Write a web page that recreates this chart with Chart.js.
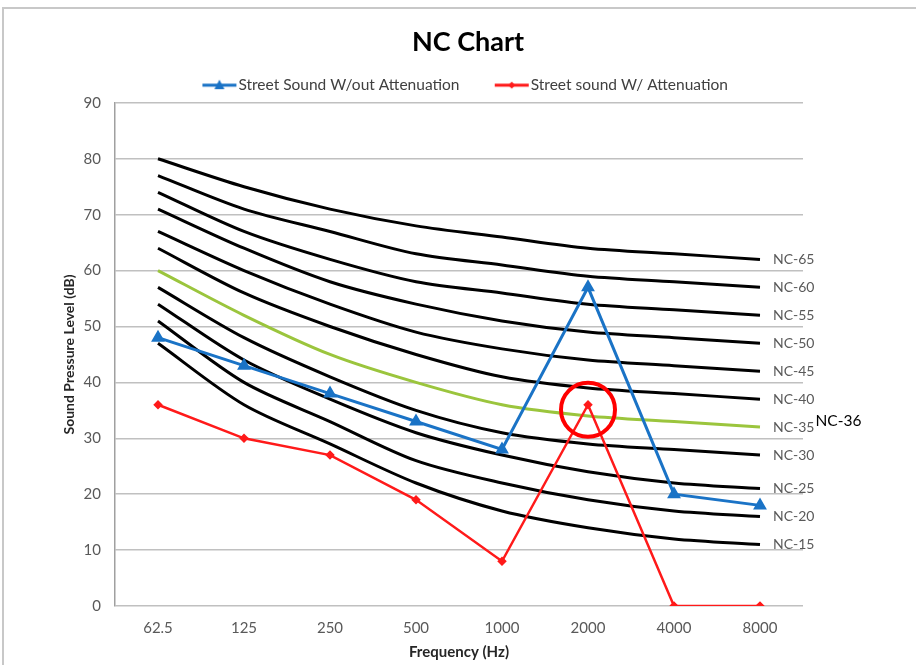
<!DOCTYPE html>
<html>
<head>
<meta charset="utf-8">
<script src="https://cdn.jsdelivr.net/npm/chart.js@4"></script>
<style>
    html, body { margin: 0; padding: 0; background: #fff; }
    #wrap { width: 916px; height: 665px; position: relative; }
</style>
</head>
<body>
<div id="wrap"><canvas id="ncChart" width="916" height="665"></canvas></div>
<script>
const freqLabels = ["62.5", "125", "250", "500", "1000", "2000", "4000", "8000"];
const yTicks = [0, 10, 20, 30, 40, 50, 60, 70, 80, 90];

// NC reference curves
const nc15 = [47, 36, 29, 22, 17, 14, 12, 11];
const nc20 = [51, 40, 33, 26, 22, 19, 17, 16];
const nc25 = [54, 44, 37, 31, 27, 24, 22, 21];
const nc30 = [57, 48, 41, 35, 31, 29, 28, 27];
const nc35 = [60, 52, 45, 40, 36, 34, 33, 32];
const nc40 = [64, 56, 50, 45, 41, 39, 38, 37];
const nc45 = [67, 60, 54, 49, 46, 44, 43, 42];
const nc50 = [71, 64, 58, 54, 51, 49, 48, 47];
const nc55 = [74, 67, 62, 58, 56, 54, 53, 52];
const nc60 = [77, 71, 67, 63, 61, 59, 58, 57];
const nc65 = [80, 75, 71, 68, 66, 64, 63, 62];

// measured street sound
const streetNoAtten = [48, 43, 38, 33, 28, 57, 20, 18];
const streetAtten = [36, 30, 27, 19, 8, 36, 0, 0];

const ncCurves = [
    ["NC-15", nc15], ["NC-20", nc20], ["NC-25", nc25], ["NC-30", nc30],
    ["NC-35", nc35], ["NC-40", nc40], ["NC-45", nc45], ["NC-50", nc50],
    ["NC-55", nc55], ["NC-60", nc60], ["NC-65", nc65]
];

const FONT = "Lato, 'Open Sans', sans-serif";
const BLUE = "#1a73c6";
const RED = "#ff1a1a";

// legend swatch: short line with the series marker in the middle
function legendIcon(color, shape) {
    const c = document.createElement("canvas");
    c.width = 36;
    c.height = 12;
    const g = c.getContext("2d");
    g.strokeStyle = color;
    g.fillStyle = color;
    g.lineWidth = 3;
    g.beginPath();
    g.moveTo(1, 6);
    g.lineTo(35, 6);
    g.stroke();
    g.beginPath();
    if (shape === "triangle") {
        g.moveTo(18, 0.5);
        g.lineTo(23, 10);
        g.lineTo(13, 10);
    } else {
        g.moveTo(18, 2.5);
        g.lineTo(21.5, 6);
        g.lineTo(18, 9.5);
        g.lineTo(14.5, 6);
    }
    g.closePath();
    g.fill();
    return c;
}
const legendIcons = [legendIcon(BLUE, "triangle"), legendIcon(RED, "diamond")];

const datasets = [
    {
        label: "Street Sound W/out Attenuation",
        data: streetNoAtten,
        borderColor: BLUE,
        backgroundColor: BLUE,
        borderWidth: 3,
        pointStyle: "triangle",
        pointRadius: 5,
        tension: 0
    },
    {
        label: "Street sound W/ Attenuation",
        data: streetAtten,
        borderColor: RED,
        backgroundColor: RED,
        borderWidth: 2.5,
        pointStyle: "rectRot",
        pointRadius: 3,
        tension: 0
    }
];

ncCurves.forEach(([name, values]) => {
    const green = name === "NC-35";
    datasets.push({
        label: name,
        data: values,
        borderColor: green ? "#9bc53d" : "#000000",
        borderWidth: 3,
        pointRadius: 0,
        tension: 0.3
    });
});

const framePlugin = {
    id: "frame",
    beforeDraw(chart) {
        const ctx = chart.ctx;
        ctx.save();
        ctx.fillStyle = "#ffffff";
        ctx.fillRect(0, 0, chart.width, chart.height);
        ctx.strokeStyle = "#c8c8c8";
        ctx.lineWidth = 2;
        ctx.beginPath();
        ctx.moveTo(3, chart.height + 5);
        ctx.lineTo(3, 8);
        ctx.lineTo(chart.width, 8);
        ctx.stroke();
        ctx.restore();
    }
};

const ncLabelPlugin = {
    id: "ncLabels",
    afterDatasetsDraw(chart) {
        const ctx = chart.ctx;
        const xs = chart.scales.x;
        const ys = chart.scales.y;
        const lastIdx = freqLabels.length - 1;
        const px = xs.getPixelForValue(lastIdx) + 13;

        ctx.save();
        ctx.font = "14px " + FONT;
        ctx.fillStyle = "#595959";
        ctx.textAlign = "left";
        ctx.textBaseline = "middle";
        let nc35Right = 0, nc35Y = 0;
        ncCurves.forEach(([name, values]) => {
            const py = ys.getPixelForValue(values[lastIdx]);
            ctx.fillText(name, px, py);
            if (name === "NC-35") {
                nc35Right = px + ctx.measureText(name).width;
                nc35Y = py;
            }
        });

        // note next to NC-35
        ctx.font = "15.5px " + FONT;
        ctx.fillStyle = "#000000";
        ctx.fillText("NC-36", nc35Right + 1, nc35Y - 6);

        // circle round the attenuated peak
        const peak = chart.getDatasetMeta(1).data[5];
        ctx.strokeStyle = "#ff0000";
        ctx.lineWidth = 4;
        ctx.beginPath();
        ctx.arc(peak.x, peak.y + 5, 27, 0, Math.PI * 2);
        ctx.stroke();
        ctx.restore();
    }
};

const ctx = document.getElementById("ncChart").getContext("2d");
new Chart(ctx, {
    type: "line",
    data: { labels: freqLabels, datasets: datasets },
    plugins: [framePlugin, ncLabelPlugin],
    options: {
        responsive: false,
        animation: false,
        layout: { padding: { left: 61, right: 41, top: 2, bottom: 4 } },
        plugins: {
            title: {
                display: true,
                text: "NC Chart",
                color: "#000000",
                font: { family: FONT, size: 27, weight: "bold" },
                padding: { top: 24, bottom: -22 }
            },
            legend: {
                display: true,
                labels: {
                    usePointStyle: true,
                    pointStyleWidth: 22.5,
                    padding: 41,
                    color: "#404040",
                    font: { family: FONT, size: 15.5 },
                    filter: (item) => item.datasetIndex < 2,
                    generateLabels(chart) {
                        const items = Chart.defaults.plugins.legend.labels.generateLabels(chart);
                        items.forEach((it) => {
                            if (it.datasetIndex < 2) it.pointStyle = legendIcons[it.datasetIndex];
                        });
                        return items;
                    }
                }
            },
            tooltip: { enabled: false }
        },
        scales: {
            x: {
                type: "category",
                offset: true,
                grid: { display: false, drawTicks: false },
                border: { display: false },
                ticks: {
                    color: "#595959",
                    font: { family: FONT, size: 15 },
                    padding: 13
                },
                title: {
                    display: true,
                    text: "Frequency (Hz)",
                    color: "#262626",
                    font: { family: FONT, size: 15, weight: "bold" },
                    padding: { top: -7, bottom: 0 }
                }
            },
            y: {
                min: 0,
                max: 90,
                afterBuildTicks(scale) {
                    scale.ticks = yTicks.map((v) => ({ value: v }));
                },
                afterFit(scale) {
                    scale.width = 54;
                },
                grid: { color: "#c0c0c0", lineWidth: 1.5, drawTicks: false },
                border: { display: true, color: "#a0a0a0", width: 1.5 },
                ticks: {
                    color: "#595959",
                    font: { family: FONT, size: 15 },
                    padding: 14
                },
                title: {
                    display: true,
                    text: "Sound Pressure Level (dB)",
                    color: "#262626",
                    font: { family: FONT, size: 14, weight: "bold" },
                    padding: { top: 0, bottom: 0 }
                }
            },
            // empty right-hand box that leaves room for the NC labels
            ySpace: {
                position: "right",
                min: 0,
                max: 90,
                grid: { display: false, drawTicks: false },
                border: { display: false },
                ticks: { display: false },
                afterFit(scale) {
                    scale.width = 72;
                }
            }
        }
    }
});
</script>
</body>
</html>
